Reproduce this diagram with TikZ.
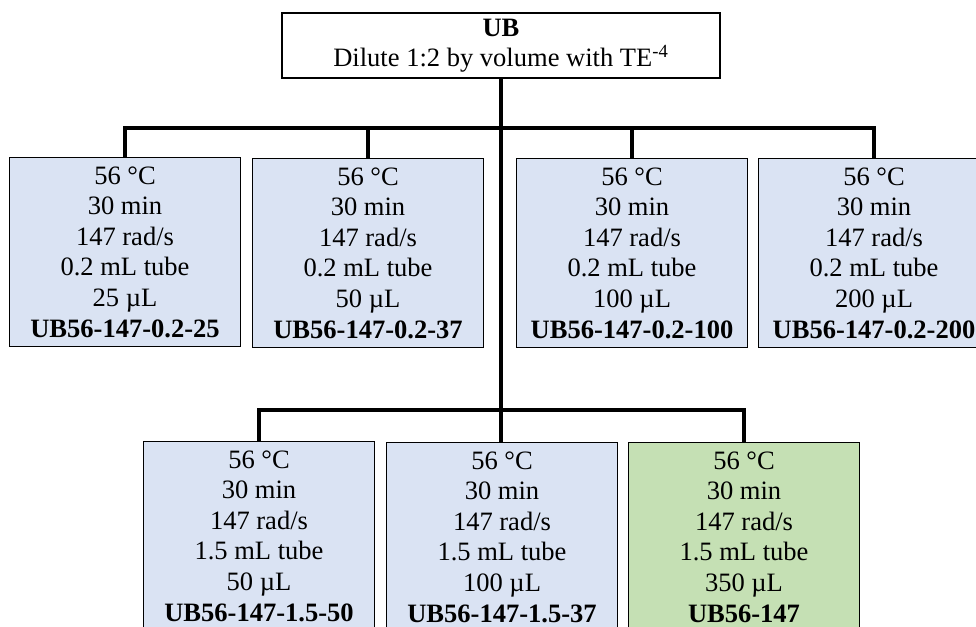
\documentclass[tikz,border=0pt]{standalone}
\usepackage{fontspec}
\setmainfont{Liberation Serif}
\usepackage{xcolor}
\usepackage{tikz}
\usetikzlibrary{positioning}
\definecolor{runBlue}{HTML}{DAE3F3}
\definecolor{keepGreen}{HTML}{C5E0B4}
\tikzset{
  txt/.style={font=\fontsize{15.1}{17.4}\selectfont, align=center},
  topbox/.style={draw=black, line width=0.85pt, fill=white, txt,
    minimum width=8.76cm, minimum height=1.3cm, inner sep=1pt},
  runbox/.style={draw=black, line width=0.85pt, fill=runBlue, txt,
    minimum width=4.62cm, minimum height=3.78cm, inner sep=1pt},
  link/.style={line width=2.8pt},
}

\begin{document}
\begin{tikzpicture}[x=0.02cm, y=-0.02cm]
  \useasboundingbox (0,0) rectangle (976,626);
  \clip (0,0) rectangle (976,626);
  \node[topbox] (ub) at (501,45.5) {\textbf{UB}\\Dilute 1:2 by volume with TE\textsuperscript{-4}};
  % first row, 0.2 mL tubes
  \foreach \n/\x/\y/\tube/\vol/\tag/\fc in {
      b1/125/252/0.2/25/UB56-147-0.2-25/runBlue,
      b2/368/253/0.2/50/UB56-147-0.2-37/runBlue,
      b3/632/253/0.2/100/UB56-147-0.2-100/runBlue,
      b4/874/253/0.2/200/UB56-147-0.2-200/runBlue,
      b5/259/536/1.5/50/UB56-147-1.5-50/runBlue,
      b6/502/537/1.5/100/UB56-147-1.5-37/runBlue,
      b7/744/537/1.5/350/UB56-147/keepGreen} {
    \node[runbox, fill=\fc] (\n) at (\x,\y)
      {56 °C\\30 min\\147 rad/s\\\tube{} mL tube\\\vol{} µL\\\textbf{\tag}};
  }
  \coordinate (fork1) at (501,128);
  \coordinate (fork2) at (501,410);
  % connectors
  \draw[link] (ub.south) -- (ub.south |- b6.north);
  \draw[link] (b1.north) |- (fork1) -| (b4.north);
  \draw[link] (b2.north) -- (b2.north |- fork1);
  \draw[link] (b3.north) -- (b3.north |- fork1);
  \draw[link] (b5.north) |- (fork2) -| (b7.north);
\end{tikzpicture}
\end{document}
